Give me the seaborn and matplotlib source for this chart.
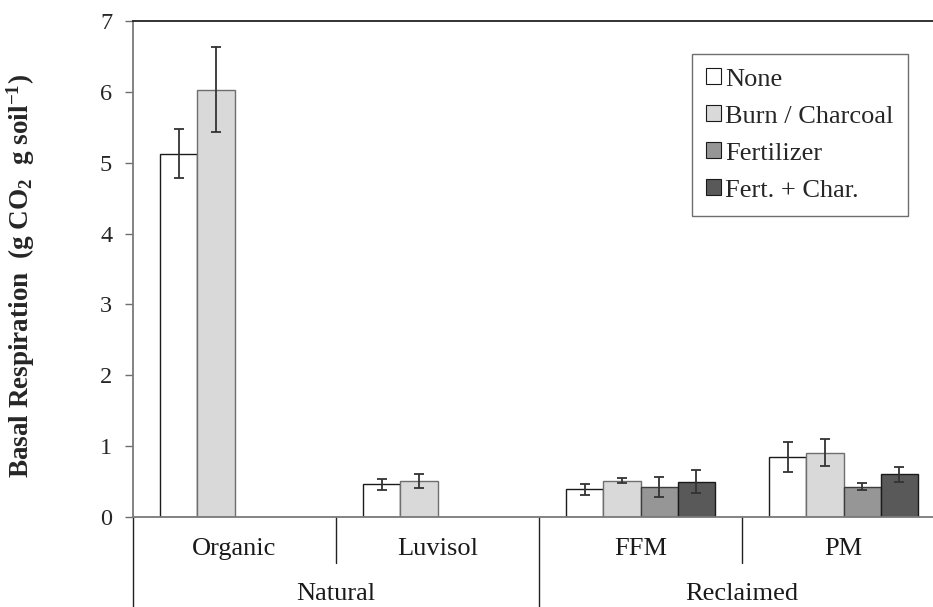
import matplotlib
matplotlib.use("Agg")
import matplotlib.pyplot as plt
import matplotlib.transforms as mtransforms
from matplotlib.patches import Patch
from matplotlib.container import BarContainer
import numpy as np
import pandas as pd
import seaborn as sns

# ---- data -------------------------------------------------------------
soils = ["Organic", "Luvisol", "FFM", "PM"]
groups = ["Natural", "Reclaimed"]
treatments = ["None", "Burn / Charcoal", "Fertilizer", "Fert. + Char."]

none_mean = [5.13, 0.46, 0.39, 0.85]
none_err = [0.34, 0.08, 0.08, 0.21]
burn_mean = [6.03, 0.51, 0.51, 0.91]
burn_err = [0.60, 0.10, 0.035, 0.19]
fert_mean = [None, None, 0.42, 0.43]
fert_err = [None, None, 0.14, 0.05]
fc_mean = [None, None, 0.50, 0.60]
fc_err = [None, None, 0.16, 0.10]

y_ticks = [0, 1, 2, 3, 4, 5, 6, 7]

# ---- styling ----------------------------------------------------------
fills = ["#ffffff", "#d9d9d9", "#969696", "#595959"]
edges = ["#1a1a1a", "#6e6e6e", "#3c3c3c", "#1a1a1a"]

sns.set_style("ticks")
plt.rcParams["font.family"] = ["Liberation Serif", "DejaVu Serif"]
plt.rcParams["mathtext.fontset"] = "custom"
plt.rcParams["mathtext.rm"] = "Liberation Serif"
plt.rcParams["mathtext.bf"] = "Liberation Serif:bold"
plt.rcParams["mathtext.default"] = "regular"

means = [none_mean, burn_mean, fert_mean, fc_mean]
errs = [none_err, burn_err, fert_err, fc_err]
rows = []
for t, m_list, e_list in zip(treatments, means, errs):
    for s, m, e in zip(soils, m_list, e_list):
        if m is not None:
            rows.append({"soil": s, "treatment": t, "value": m, "err": e})
df = pd.DataFrame(rows)

W, H, DPI = 933, 607, 100
fig = plt.figure(figsize=(W / DPI, H / DPI), dpi=DPI)
ax_left, ax_right, ax_top, ax_bottom = 133, 945, 21, 517
ax = fig.add_axes([ax_left / W, 1 - ax_bottom / H,
                   (ax_right - ax_left) / W, (ax_bottom - ax_top) / H])

sns.barplot(data=df, x="soil", y="value", hue="treatment",
            order=soils, hue_order=treatments, palette=fills,
            saturation=1, width=0.73, errorbar=None, legend=False,
            linewidth=1.0, edgecolor="#1a1a1a", ax=ax)

# per-treatment edge colours and error bars at each bar centre
err_lookup = {(r.soil, r.treatment): r.err for r in df.itertuples()}
bar_containers = [c for c in ax.containers if isinstance(c, BarContainer)]
for ti, cont in enumerate(bar_containers):
    for patch in cont.patches:
        patch.set_edgecolor(edges[ti])
        cx = patch.get_x() + patch.get_width() / 2
        h = patch.get_height()
        soil = soils[int(round(cx))]
        e = err_lookup.get((soil, treatments[ti]))
        if e is None or np.isnan(h):
            continue
        ax.errorbar(cx, h, yerr=e, fmt="none", ecolor="#333333",
                    elinewidth=1.3, capsize=3.8, capthick=1.3, zorder=5)

ax.set_ylim(0, 7)
ax.set_xlim(-0.5, 3.5)
ax.set_yticks(y_ticks)
ax.set_yticklabels([str(v) for v in y_ticks], fontsize=17.5)
ax.tick_params(axis="y", direction="out", length=6, width=1.0,
               color="#6e6e6e", pad=9)
ax.tick_params(axis="x", length=0, labelbottom=False)
ax.set_xlabel("")
ax.set_ylabel("Basal Respiration  (g CO$_2$  g soil$^{-1}$)",
              fontsize=19.5, fontweight="bold")
ax.yaxis.set_label_coords(-0.118, 0.486)

for side in ["left", "bottom"]:
    ax.spines[side].set_color("#7a7a7a")
    ax.spines[side].set_linewidth(1.3)
ax.spines["top"].set_color("#222222")
ax.spines["top"].set_linewidth(1.3)
ax.spines["right"].set_visible(False)

# two-level category axis below the plot
trans = mtransforms.blended_transform_factory(ax.transData, ax.transAxes)
y_bottom = -(H - ax_bottom) / (ax_bottom - ax_top)
y_mid = -(563 - ax_bottom) / (ax_bottom - ax_top)
for xd in [0.5, 2.5]:
    ax.plot([xd, xd], [0, y_mid], transform=trans, color="#222222",
            lw=1.0, clip_on=False)
for xd in [-0.5, 1.5, 3.5]:
    ax.plot([xd, xd], [0, y_bottom], transform=trans, color="#222222",
            lw=1.0, clip_on=False)

y_cat = -(549 - ax_bottom) / (ax_bottom - ax_top)
for i, s in enumerate(soils):
    ax.text(i, y_cat, s, transform=trans, ha="center", va="center",
            fontsize=19, color="#1a1a1a")
y_grp = -(594 - ax_bottom) / (ax_bottom - ax_top)
for gi, g in enumerate(groups):
    ax.text(0.5 + 2 * gi, y_grp, g, transform=trans, ha="center",
            va="center", fontsize=19, color="#1a1a1a")

handles = [Patch(facecolor=f, edgecolor="#1a1a1a", linewidth=0.8)
           for f in fills]
leg = ax.legend(handles, treatments, loc="upper right",
                bbox_to_anchor=(0.954, 0.934), fontsize=19,
                frameon=True, fancybox=False, framealpha=1,
                handlelength=0.55, handleheight=0.55, handletextpad=0.15,
                labelspacing=0.56, borderpad=0.55, borderaxespad=0)
leg.get_frame().set_edgecolor("#6e6e6e")
leg.get_frame().set_linewidth(1.0)

fig.savefig("out.png", dpi=DPI)
